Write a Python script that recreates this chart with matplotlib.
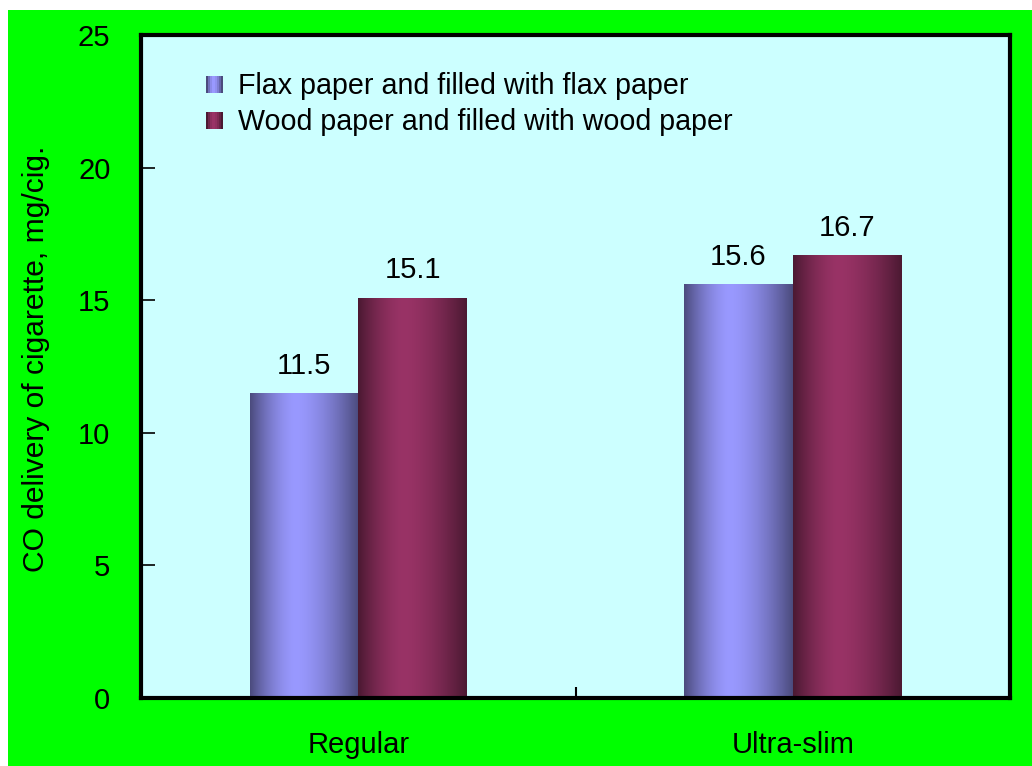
import numpy as np
import matplotlib
matplotlib.use("Agg")
import matplotlib.pyplot as plt
from matplotlib.patches import Rectangle
from matplotlib.legend_handler import HandlerBase
from matplotlib.colors import to_rgb

plt.rcParams['font.family'] = ['Liberation Sans', 'DejaVu Sans']

categories = ['Regular', 'Ultra-slim']
flax = [11.5, 15.6]
wood = [15.1, 16.7]
series_names = ['Flax paper and filled with flax paper',
                'Wood paper and filled with wood paper']
series_colors = ['#9999FF', '#993366']
yticks = [0, 5, 10, 15, 20, 25]


def shade_profile(n=200, peak=0.42):
    # cylinder-like shading: dark edges, bright near the middle
    t = np.linspace(0, 1, n)
    d = np.where(t < peak, (peak - t) / peak, (t - peak) / (1 - peak))
    return 1.0 - 0.51 * d ** 1.6


def gradient_image(color, n=200):
    f = shade_profile(n)
    rgb = np.array(to_rgb(color))
    return (f[:, None] * rgb[None, :])[None, :, :]


class GradientHandler(HandlerBase):
    def create_artists(self, legend, orig_handle, xdescent, ydescent,
                       width, height, fontsize, trans):
        color = orig_handle.get_facecolor()
        size = height * 1.0
        x0 = -xdescent + width - size
        y0 = -ydescent
        n = 8
        f = shade_profile(n)
        rgb = np.array(color[:3])
        arts = []
        for i in range(n):
            r = Rectangle((x0 + i * size / n, y0), size / n * 1.05, size,
                          facecolor=f[i] * rgb, edgecolor='none', transform=trans)
            arts.append(r)
        return arts


fig = plt.figure(figsize=(10.32, 7.66), dpi=100, facecolor='white')
# green panel (leaves a thin white strip at top and left)
fig.patches.append(Rectangle((8 / 1032, 0), 1 - 8 / 1032, 1 - 10 / 766,
                             transform=fig.transFigure, facecolor='#00FF00',
                             edgecolor='none', zorder=-10))

ax = fig.add_axes([141 / 1032, 1 - 698 / 766, (1010 - 141) / 1032, (698 - 35) / 766])
ax.set_facecolor('#CCFFFF')

fs = 21
x = np.arange(len(categories))
w = 0.25
handles = []
for k, (vals, color, name) in enumerate(zip([flax, wood], series_colors, series_names)):
    bars = ax.bar(x + (k - 0.5) * w, vals, w, color=color, label=name, zorder=2)
    handles.append(bars[0])
    img = gradient_image(color)
    for b in bars:
        x0, h, bw = b.get_x(), b.get_height(), b.get_width()
        im = ax.imshow(img, extent=(x0, x0 + bw, 0, h), aspect='auto',
                       interpolation='bilinear', zorder=3)
        im.set_clip_path(b)
        ax.text(x0 + bw / 2, h + 0.5, f'{h:.1f}', ha='center', va='bottom',
                fontsize=fs, zorder=4)

ax.set_xlim(-0.5, 1.5)
ax.set_ylim(0, 25)
ax.set_yticks(yticks)
ax.set_xticks([0.5])
ax.set_xticklabels([''])
ax.tick_params(axis='y', direction='in', length=10, width=1.2, labelsize=fs, pad=22)
ax.tick_params(axis='x', direction='in', length=8, width=1.5)
for xi, c in zip(x, categories):
    ax.text(xi, -1.25, c, ha='center', va='top', fontsize=fs)

for s in ax.spines.values():
    s.set_linewidth(3)
    s.set_color('black')
    s.set_zorder(5)

ax.set_ylabel('CO delivery of cigarette, mg/cig.', fontsize=21.6)
ax.yaxis.set_label_coords(-0.105, 0.511)

ax.legend(handles=handles, labels=series_names, loc='upper left',
          bbox_to_anchor=(0.0535, 0.974), frameon=False, fontsize=20.6,
          handler_map={Rectangle: GradientHandler()},
          handlelength=0.55, handleheight=0.55, handletextpad=0.53,
          labelspacing=0.28, borderaxespad=0.3)

fig.savefig('out.png', dpi=100, facecolor=fig.get_facecolor())
